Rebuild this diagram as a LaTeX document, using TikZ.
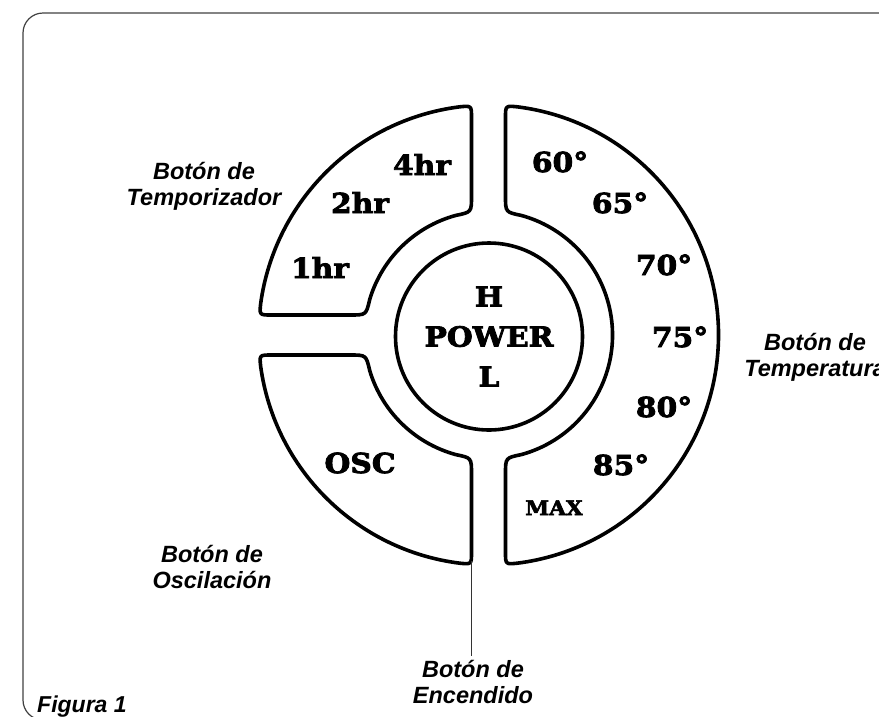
\documentclass[tikz,border=0pt]{standalone}
\usepackage{fontspec}
\setmainfont{DejaVu Serif}
\newfontfamily\btnfont{DejaVu Serif}[BoldFeatures={FakeBold=3,FakeStretch=1.08}]
\newfontfamily\lblfont{Liberation Sans}
\tikzset{
  lobe/.style={draw=black, line width=3.6pt, line join=round},
  btn/.style={font=\btnfont\bfseries\fontsize{27.5}{27.5}\selectfont, anchor=base, inner sep=0pt},
  btnsmall/.style={font=\btnfont\bfseries\fontsize{20}{20}\selectfont, anchor=base, inner sep=0pt},
  lbl/.style={font=\lblfont\bfseries\itshape\fontsize{23.5}{26}\selectfont, align=center, inner sep=0pt, anchor=base},
  framebox/.style={draw=black!75, line width=1.2pt, rounded corners=20pt},
  stem/.style={draw=black!80, line width=1.1pt}
}
\begin{document}
\begin{tikzpicture}[x=1pt,y=1pt]
\useasboundingbox (0,0) rectangle (879,-716);
\clip (0,0) rectangle (879,-716);
\draw[framebox] (23,-13) rectangle (930,-720);

\begin{scope}[shift={(488.5,-335)}]
  % right lobe (temperature)
  \draw[lobe] (17,138.83) -- (17,217.37) .. controls (17,229.37) .. (82.77:230)
    arc[start angle=82.77, end angle=-82.77, radius=230]
    .. controls (17,-229.37) .. (17,-217.37) -- (17,-138.83)
    .. controls (17,-122.83) .. (-74.73:124)
    arc[start angle=-74.73, end angle=74.73, radius=124]
    .. controls (17,122.83) .. (17,138.83) -- cycle;
  % top-left lobe (timer)
  \draw[lobe] (-17,138.83) -- (-17,217.37) .. controls (-17,229.37) .. (97.23:230)
    arc[start angle=97.23, end angle=172.02, radius=230]
    .. controls (-229.13,20) .. (-217.13,20) -- (-138.38,20)
    .. controls (-122.38,20) .. (163.33:124)
    arc[start angle=163.33, end angle=105.27, radius=124]
    .. controls (-17,122.83) .. (-17,138.83) -- cycle;
  % bottom-left lobe (oscillation)
  \draw[lobe] (-17,-138.83) -- (-17,-217.37) .. controls (-17,-229.37) .. (-97.23:230)
    arc[start angle=-97.23, end angle=-172.02, radius=230]
    .. controls (-229.13,-20) .. (-217.13,-20) -- (-138.38,-20)
    .. controls (-122.38,-20) .. (-163.33:124)
    arc[start angle=-163.33, end angle=-105.27, radius=124]
    .. controls (-17,-122.83) .. (-17,-138.83) -- cycle;
  % power button
  \node[circle, draw=black, line width=3.6pt, minimum size=187pt, inner sep=0pt,
        align=center, font=\btnfont\bfseries\fontsize{27.5}{40}\selectfont]
        (power) at (0.5,-1.5) {H\\POWER\\L};
  \coordinate (stemtop) at (-17,-226);
\end{scope}

% timer buttons
\node[btn] (t4) at (422,-175) {4hr};
\node[btn] (t2) at (360,-213) {2hr};
\node[btn] (t1) at (320,-278) {1hr};
% temperature buttons
\node[btn] (d60) at (560,-172) {60°};
\node[btn] (d65) at (620,-213) {65°};
\node[btn] (d70) at (664,-275) {70°};
\node[btn] (d75) at (680,-347) {75°};
\node[btn] (d80) at (664,-417) {80°};
\node[btn] (d85) at (621,-475) {85°};
\node[btnsmall] (dmax) at (554,-515) {MAX};
% oscillation
\node[btn] (osc) at (360,-473) {OSC};

% labels (base anchor = baseline of the last line)
\node[lbl] (ltimer) at (204,-205) {Botón de\\Temporizador};
\node[lbl] (ltemp) at (815,-376) {Botón de\\Temperatura};
\node[lbl] (losc) at (212,-588) {Botón de\\Oscilación};
\node[lbl] (lenc) at (473,-703) {Botón de\\Encendido};
\node[font=\lblfont\bfseries\itshape\fontsize{23}{26}\selectfont, anchor=base west, inner sep=0pt] (fig) at (37,-712) {Figura 1};

\draw[stem] (stemtop) -- ([yshift=4pt]stemtop |- lenc.north);
\end{tikzpicture}
\end{document}
